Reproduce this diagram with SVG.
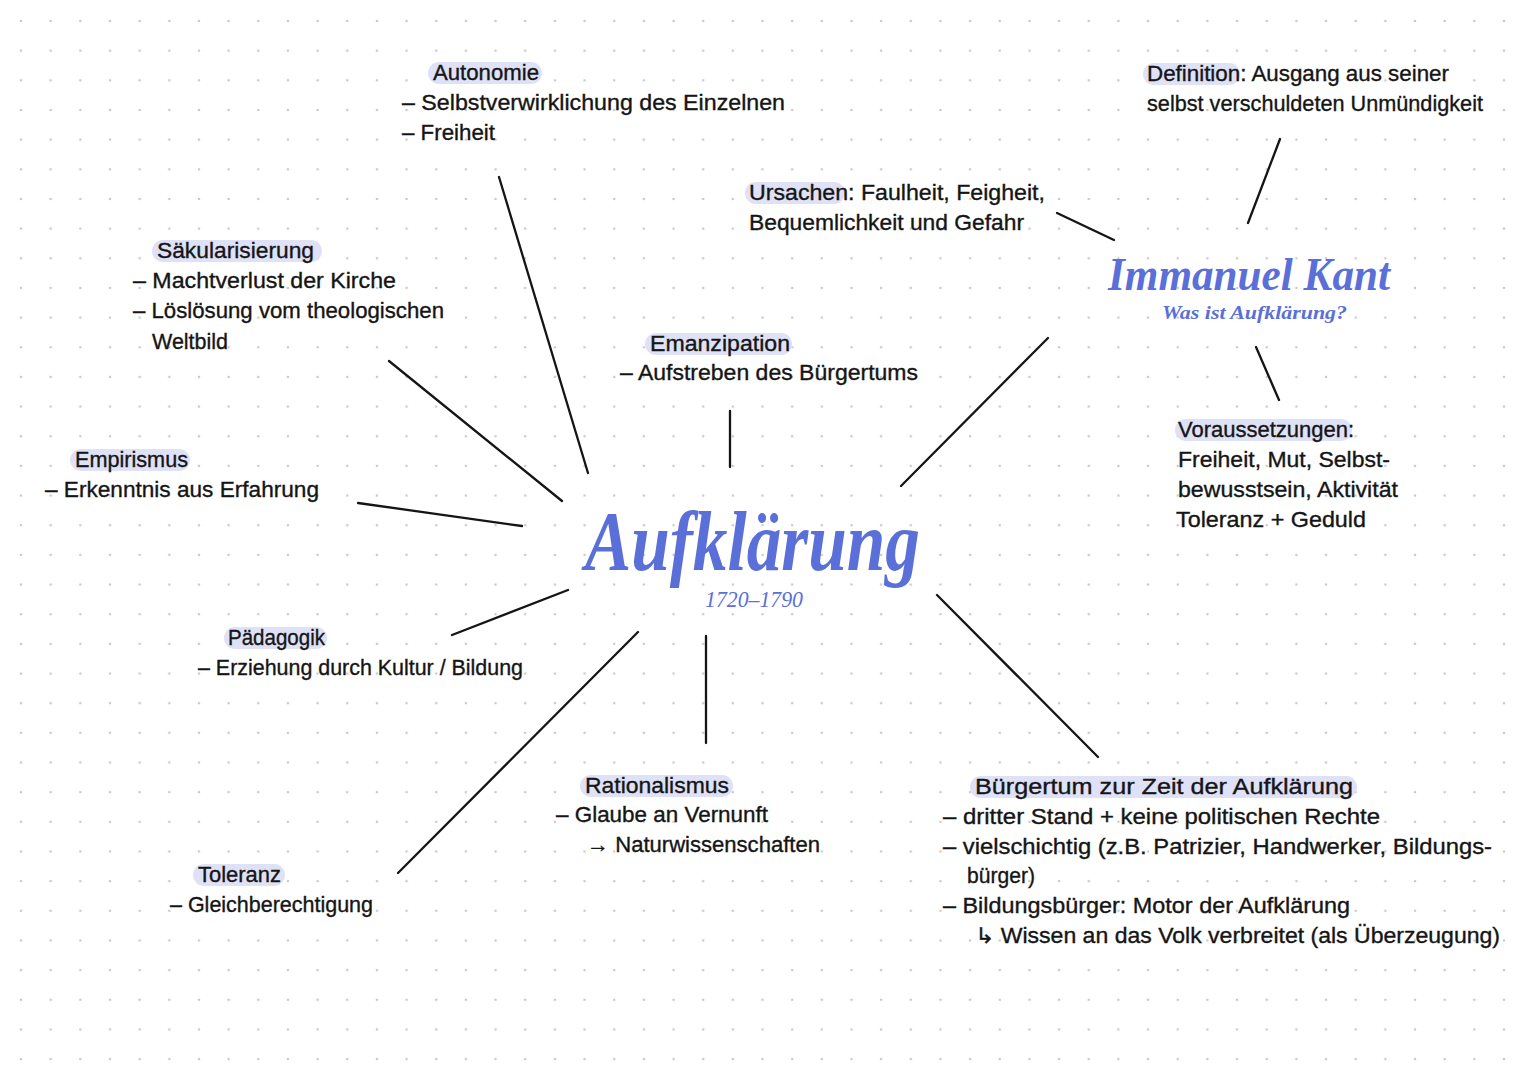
<svg xmlns="http://www.w3.org/2000/svg" width="1525" height="1080" viewBox="0 0 1525 1080">
<defs>
<pattern id="dots" x="21" y="21" width="29.66" height="29.66" patternUnits="userSpaceOnUse">
<circle cx="0" cy="0" r="1.3" fill="#c9c9c9"/>
<circle cx="29.66" cy="0" r="1.3" fill="#c9c9c9"/>
<circle cx="0" cy="29.66" r="1.3" fill="#c9c9c9"/>
<circle cx="29.66" cy="29.66" r="1.3" fill="#c9c9c9"/>
</pattern>
<style>
.t{font-family:"Liberation Sans","DejaVu Sans",sans-serif;font-size:22px;fill:#151515;stroke:#151515;stroke-width:0.35px;}
.hl{fill:#dfe1f7;}
.con line{stroke:#151515;stroke-width:2.3;stroke-linecap:round;}
.blue{fill:#5b6fd8;}
</style>
</defs>
<rect width="1525" height="1080" fill="#ffffff"/>
<rect x="0" y="0" width="1525" height="1080" fill="url(#dots)"/>

<g id="connectors" class="con">
<line x1="499" y1="177" x2="588" y2="473"/>
<line x1="389" y1="361" x2="562" y2="501"/>
<line x1="358" y1="503" x2="522" y2="526"/>
<line x1="452" y1="635" x2="568" y2="590"/>
<line x1="398" y1="873" x2="638" y2="632"/>
<line x1="706" y1="636" x2="706" y2="743"/>
<line x1="937" y1="595" x2="1098" y2="757"/>
<line x1="901" y1="486" x2="1048" y2="338"/>
<line x1="730" y1="411" x2="730" y2="467"/>
<line x1="1057" y1="213" x2="1114" y2="240"/>
<line x1="1280" y1="139" x2="1248" y2="223"/>
<line x1="1256" y1="347" x2="1279" y2="400"/>
</g>

<g id="center">
<text x="585" y="570" font-family="'Liberation Serif','DejaVu Serif',serif" font-style="italic" font-weight="bold" font-size="84" class="blue" textLength="335" lengthAdjust="spacingAndGlyphs">Aufklärung</text>
<text x="705" y="607" font-family="'Liberation Serif','DejaVu Serif',serif" font-style="italic" font-size="23" class="blue" textLength="98" lengthAdjust="spacingAndGlyphs">1720–1790</text>
</g>

<g id="kant">
<text x="1108" y="290" font-family="'Liberation Serif','DejaVu Serif',serif" font-style="italic" font-weight="bold" font-size="46" class="blue" textLength="282" lengthAdjust="spacingAndGlyphs">Immanuel Kant</text>
<text x="1162" y="319" font-family="'Liberation Serif','DejaVu Serif',serif" font-style="italic" font-weight="bold" font-size="19" class="blue" textLength="185" lengthAdjust="spacingAndGlyphs">Was ist Aufklärung?</text>
</g>

<g id="autonomie">
<rect class="hl" x="428" y="62" width="114" height="22" rx="11"/>
<text class="t" x="433" y="80" textLength="106" lengthAdjust="spacingAndGlyphs">Autonomie</text>
<text class="t" x="402" y="110" textLength="383" lengthAdjust="spacingAndGlyphs">– Selbstverwirklichung des Einzelnen</text>
<text class="t" x="402" y="140" textLength="93" lengthAdjust="spacingAndGlyphs">– Freiheit</text>
</g>

<g id="saekularisierung">
<rect class="hl" x="152" y="240" width="170" height="22" rx="11"/>
<text class="t" x="157" y="258" textLength="157" lengthAdjust="spacingAndGlyphs">Säkularisierung</text>
<text class="t" x="133" y="288" textLength="263" lengthAdjust="spacingAndGlyphs">– Machtverlust der Kirche</text>
<text class="t" x="133" y="318" textLength="311" lengthAdjust="spacingAndGlyphs">– Löslösung vom theologischen</text>
<text class="t" x="152" y="349" textLength="76" lengthAdjust="spacingAndGlyphs">Weltbild</text>
</g>

<g id="emanzipation">
<rect class="hl" x="645" y="333" width="147" height="22" rx="11"/>
<text class="t" x="650" y="351" textLength="140" lengthAdjust="spacingAndGlyphs">Emanzipation</text>
<text class="t" x="620" y="380" textLength="298" lengthAdjust="spacingAndGlyphs">– Aufstreben des Bürgertums</text>
</g>

<g id="ursachen">
<rect class="hl" x="745" y="182" width="100" height="22" rx="11"/>
<text class="t" x="749" y="200" textLength="296" lengthAdjust="spacingAndGlyphs">Ursachen:  Faulheit, Feigheit,</text>
<text class="t" x="749" y="230" textLength="275" lengthAdjust="spacingAndGlyphs">Bequemlichkeit und Gefahr</text>
</g>

<g id="definition">
<rect class="hl" x="1143" y="63" width="97" height="22" rx="11"/>
<text class="t" x="1147" y="81" textLength="302" lengthAdjust="spacingAndGlyphs">Definition: Ausgang aus seiner</text>
<text class="t" x="1147" y="111" textLength="336" lengthAdjust="spacingAndGlyphs">selbst verschuldeten Unmündigkeit</text>
</g>

<g id="voraussetzungen">
<rect class="hl" x="1175" y="419" width="177" height="22" rx="11"/>
<text class="t" x="1178" y="437" textLength="176" lengthAdjust="spacingAndGlyphs">Voraussetzungen:</text>
<text class="t" x="1178" y="467" textLength="212" lengthAdjust="spacingAndGlyphs">Freiheit, Mut, Selbst-</text>
<text class="t" x="1178" y="497" textLength="220" lengthAdjust="spacingAndGlyphs">bewusstsein, Aktivität</text>
<text class="t" x="1176" y="527" textLength="190" lengthAdjust="spacingAndGlyphs">Toleranz + Geduld</text>
</g>

<g id="empirismus">
<rect class="hl" x="70" y="449" width="120" height="22" rx="11"/>
<text class="t" x="75" y="467" textLength="113" lengthAdjust="spacingAndGlyphs">Empirismus</text>
<text class="t" x="45" y="497" textLength="274" lengthAdjust="spacingAndGlyphs">– Erkenntnis aus Erfahrung</text>
</g>

<g id="paedagogik">
<rect class="hl" x="224" y="627" width="103" height="22" rx="11"/>
<text class="t" x="228" y="645" textLength="97" lengthAdjust="spacingAndGlyphs">Pädagogik</text>
<text class="t" x="198" y="675" textLength="325" lengthAdjust="spacingAndGlyphs">– Erziehung durch Kultur / Bildung</text>
</g>

<g id="toleranz">
<rect class="hl" x="193" y="864" width="92" height="22" rx="11"/>
<text class="t" x="198" y="882" textLength="83" lengthAdjust="spacingAndGlyphs">Toleranz</text>
<text class="t" x="170" y="912" textLength="203" lengthAdjust="spacingAndGlyphs">– Gleichberechtigung</text>
</g>

<g id="rationalismus">
<rect class="hl" x="580" y="775" width="153" height="22" rx="11"/>
<text class="t" x="585" y="793" textLength="144" lengthAdjust="spacingAndGlyphs">Rationalismus</text>
<text class="t" x="556" y="822" textLength="212" lengthAdjust="spacingAndGlyphs">– Glaube an Vernunft</text>
<text class="t" x="587" y="852" textLength="233" lengthAdjust="spacingAndGlyphs">→ Naturwissenschaften</text>
</g>

<g id="buergertum">
<rect class="hl" x="970" y="776" width="387" height="22" rx="11"/>
<text class="t" x="975" y="794" textLength="378" lengthAdjust="spacingAndGlyphs">Bürgertum zur Zeit der Aufklärung</text>
<text class="t" x="943" y="824" textLength="437" lengthAdjust="spacingAndGlyphs">– dritter Stand + keine politischen Rechte</text>
<text class="t" x="943" y="854" textLength="549" lengthAdjust="spacingAndGlyphs">– vielschichtig (z.B. Patrizier, Handwerker, Bildungs-</text>
<text class="t" x="967" y="883" textLength="68" lengthAdjust="spacingAndGlyphs">bürger)</text>
<text class="t" x="943" y="913" textLength="407" lengthAdjust="spacingAndGlyphs">– Bildungsbürger: Motor der Aufklärung</text>
<text class="t" x="975" y="943" textLength="525" lengthAdjust="spacingAndGlyphs">↳ Wissen an das Volk verbreitet (als Überzeugung)</text>
</g>
</svg>
